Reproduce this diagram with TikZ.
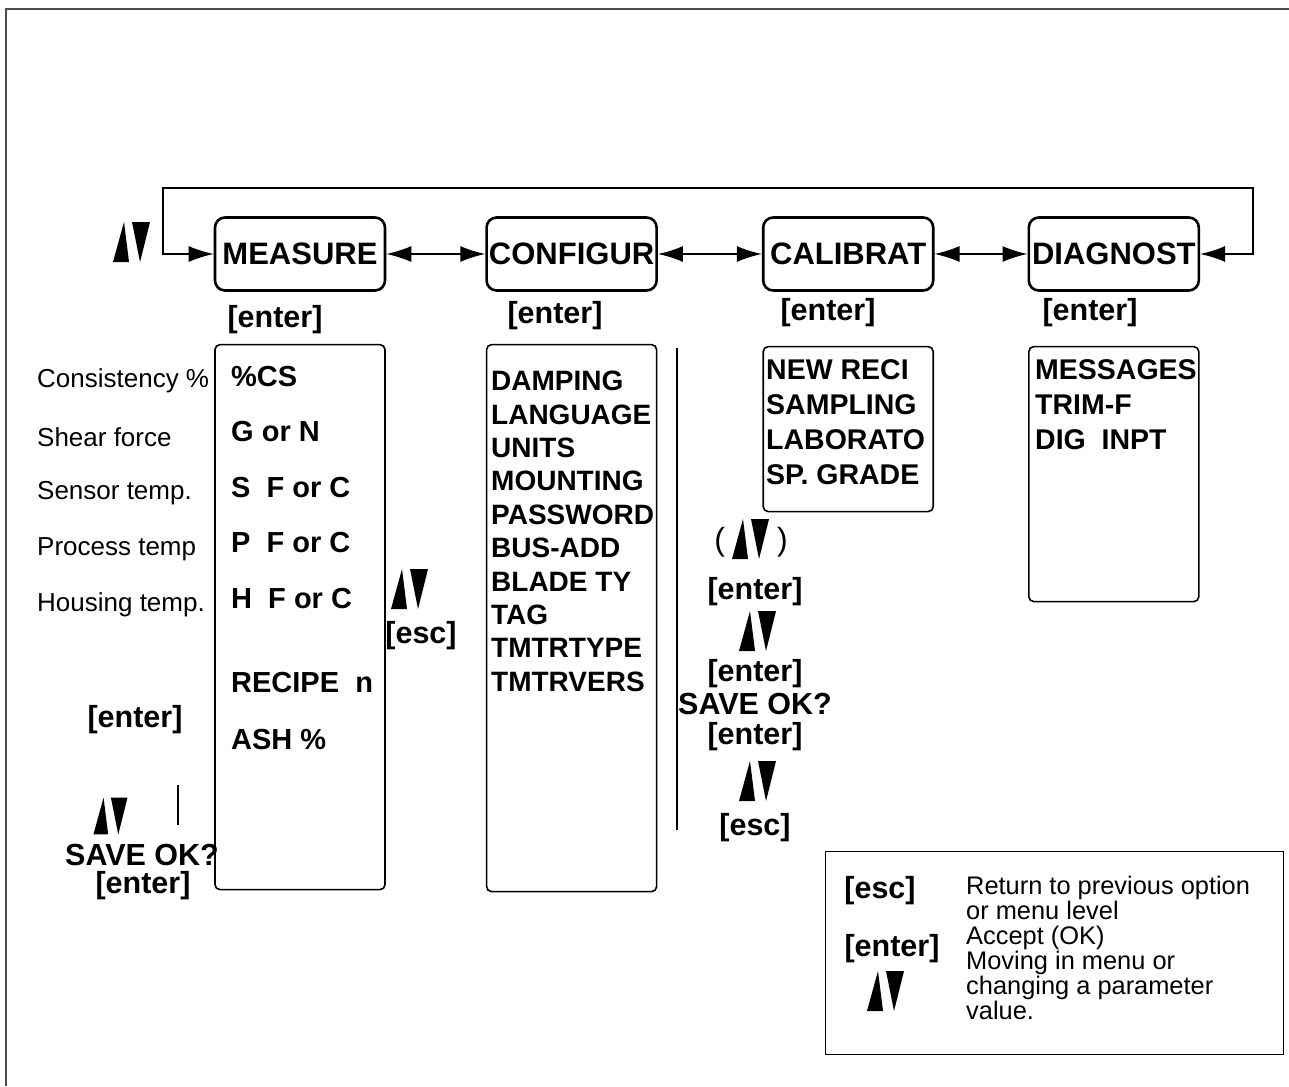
\documentclass[tikz,border=0pt]{standalone}
\usepackage{fontspec}
\setmainfont{Liberation Sans}
\usetikzlibrary{arrows.meta, positioning}

\begin{document}
\begin{tikzpicture}[
    x=1pt, y=-1pt,
    node distance=100pt,
    >={Latex[length=25pt,width=16pt]},
    menubox/.style={draw, rounded corners=10pt, line width=2.6pt, minimum width=170pt, minimum height=73pt, inner sep=0pt, font=\fontsize{31}{36}\selectfont\bfseries},
    listbox/.style={draw, rounded corners=5pt, line width=1.6pt, minimum width=170pt, inner sep=0pt},
    keylabel/.style={font=\fontsize{30.5}{34}\selectfont\bfseries, inner sep=0pt},
    itemtext/.style={font=\fontsize{29}{34}\selectfont\bfseries, inner sep=0pt, anchor=west},
    itemlist/.style={font=\fontsize{28}{33.4}\selectfont\bfseries, inner sep=0pt, align=left, anchor=north west},
    desc/.style={font=\fontsize{26}{30}\selectfont, inner sep=0pt, anchor=west},
    link/.style={<->, line width=1.6pt},
    sep/.style={line width=2.8pt},
    pics/updown/.style={code={
        \fill (-18,20) -- (-2,20) -- (-7,-20) -- cycle;
        \fill (1,-20) -- (19,-20) -- (9,20) -- cycle;
    }}
]
\useasboundingbox (0,0) rectangle (1289,1086);

% frame
\draw[line width=2pt, black!70] (6,1086) -- (6,9) -- (1289,9);

% top menu row
\node[menubox] (measure) at (300,254) {MEASURE};
\node[menubox, right=99pt of measure] (configur) {CONFIGUR};
\node[menubox, right=104pt of configur] (calibrat) {CALIBRAT};
\node[menubox, right=93pt of calibrat] (diagnost) {DIAGNOST};

\coordinate (loopleft) at (163,188);
\coordinate (loopright) at (1253,188);
\draw[link] (measure.west) -| (loopleft) -- (loopright) |- (diagnost.east);
\draw[link] (measure) -- (configur);
\draw[link] (configur) -- (calibrat);
\draw[link] (calibrat) -- (diagnost);
\pic at (131,242) {updown};

\node[keylabel] (enter1) at (275,320) {[enter]};
\node[keylabel] (enter2) at (555,316) {[enter]};
\node[keylabel] (enter3) at (828,313) {[enter]};
\node[keylabel] (enter4) at (1090,313) {[enter]};

% sub menu boxes
\node[listbox, minimum height=545pt, below=52pt of measure] (measurelist) {};
\node[listbox, minimum height=547pt, below=52pt of configur] (configurlist) {};
\node[listbox, minimum height=165pt, below=54pt of calibrat] (calibratlist) {};
\node[listbox, minimum height=255pt, below=54pt of diagnost] (diagnostlist) {};

% MEASURE
\node[desc] (lcs) at (37,381) {Consistency \%};
\node[desc] (lshear) at (37,437) {Shear force};
\node[desc] (lsensor) at (37,493) {Sensor temp.};
\node[desc] (lprocess) at (37,549) {Process temp};
\node[desc] (lhousing) at (37,605) {Housing temp.};

\node[itemtext] (mcs) at (231,377) {\%CS};
\node[itemtext] (mgn) at (231,432) {G or N};
\node[itemtext] (msf) at (231,488) {S\ \ F or C};
\node[itemtext] (mpf) at (231,543) {P\ \ F or C};
\node[itemtext] (mhf) at (231,599) {H\ \ F or C};
\node[itemtext] (mrecipe) at (231,683) {RECIPE\ \ n};
\node[itemtext] (mash) at (231,740) {ASH \%};

\pic at (409,589) {updown};
\node[keylabel] (mesc) at (421,636) {[esc]};

\node[keylabel] (menter) at (135,720) {[enter]};
\pic[scale=0.92] at (110,816) {updown};
\draw[sep] (178,785) -- (178,825);
\node[keylabel] (msave) at (142,855) {SAVE OK?};
\node[keylabel] (menter2) at (143,886) {[enter]};

% CONFIGUR
\node[itemlist] (clist) at (491,371) {DAMPING\\LANGUAGE\\UNITS\\MOUNTING\\PASSWORD\\BUS-ADD\\BLADE TY\\TAG\\TMTRTYPE\\TMTRVERS};
\draw[sep] (677,348) -- (677,830);

% CALIBRAT
\node[itemlist, font=\fontsize{28.5}{35}\selectfont\bfseries] (kalist) at (766,359) {NEW RECI\\SAMPLING\\LABORATO\\SP. GRADE};
\node[font=\fontsize{32}{36}\selectfont, inner sep=0pt] (calparen) at (751,542) {(\hspace{52pt})};
\pic at (750,539) {updown};
\node[keylabel] (kenter1) at (755,592) {[enter]};
\pic at (757,631) {updown};
\node[keylabel] (kenter2) at (755,674) {[enter]};
\node[keylabel] (ksave) at (755,704) {SAVE OK?};
\node[keylabel] (kenter3) at (755,737) {[enter]};
\pic at (757,781) {updown};
\node[keylabel] (kesc) at (755,828) {[esc]};

% DIAGNOST
\node[itemlist, font=\fontsize{28.5}{35}\selectfont\bfseries] (dlist) at (1035,359) {MESSAGES\\TRIM-F\\DIG\ \ INPT};

% legend
\node[draw, line width=1pt, minimum width=458pt, minimum height=203pt, inner sep=0pt] (legend) at (1054,952.5) {};
\node[keylabel] (lgesc) at (880,891) {[esc]};
\node[keylabel] (lgenter) at (892,949) {[enter]};
\pic at (885,991) {updown};
\node[font=\fontsize{25.4}{25}\selectfont, align=left, anchor=north west, inner sep=0pt] (legendtext) at (966,876) {Return to previous option\\or menu level\\Accept (OK)\\Moving in menu or\\changing a parameter\\value.};

\end{tikzpicture}
\end{document}
